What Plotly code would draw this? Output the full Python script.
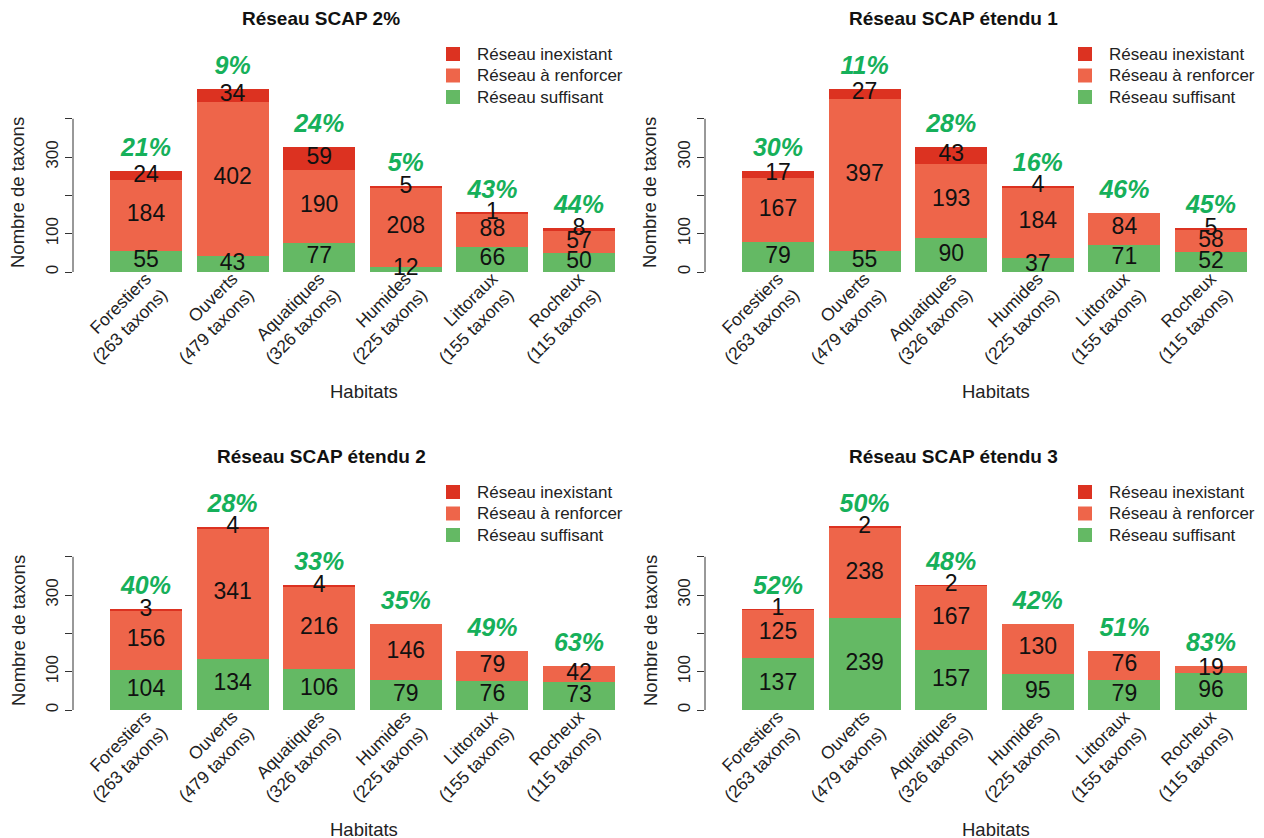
import plotly.graph_objects as go

# habitats et nombre de taxons par habitat
habitats = ["Forestiers", "Ouverts", "Aquatiques", "Humides", "Littoraux", "Rocheux"]
taxons = [263, 479, 326, 225, 155, 115]

titres = ["Réseau SCAP 2%", "Réseau SCAP étendu 1",
          "Réseau SCAP étendu 2", "Réseau SCAP étendu 3"]

# une liste par réseau (2%, étendu 1, étendu 2, étendu 3)
suffisant = [
    [55, 43, 77, 12, 66, 50],
    [79, 55, 90, 37, 71, 52],
    [104, 134, 106, 79, 76, 73],
    [137, 239, 157, 95, 79, 96],
]
renforcer = [
    [184, 402, 190, 208, 88, 57],
    [167, 397, 193, 184, 84, 58],
    [156, 341, 216, 146, 79, 42],
    [125, 238, 167, 130, 76, 19],
]
inexistant = [
    [24, 34, 59, 5, 1, 8],
    [17, 27, 43, 4, 0, 5],
    [3, 4, 4, 0, 0, 0],
    [1, 2, 2, 0, 0, 0],
]
pourcentages = [
    [21, 9, 24, 5, 43, 44],
    [30, 11, 28, 16, 46, 45],
    [40, 28, 33, 35, 49, 63],
    [52, 50, 48, 42, 51, 83],
]

yticks = [0, 100, 200, 300, 400]
yticktext = ["0", "100", "", "300", ""]

COL_INEX = "#DC3221"
COL_RENF = "#EE654A"
COL_SUFF = "#64B964"
COL_PCT = "#16B05A"
FONT = "Liberation Sans, Arial, sans-serif"

W, H = 1264, 838
PAGE = 8         # marge du body html
offsets = [(0, 0), (632, 0), (0, 438), (632, 438)]
PPU = 0.383      # pixels par taxon
Y0 = 272         # pixel de y=0 dans un panneau
C0, CW = 146, 86.6  # centre de la 1re barre, pas entre barres
TOP, BOT = 40, 276  # haut / bas du domaine y (pixels)
XLAB = 264       # ligne d'ancrage des étiquettes x (pixels)


def px(x):
    return (x - PAGE) / W


def py(y):
    return 1 - (y - PAGE) / H


cats = [f"{h}<br>({n} taxons)" for h, n in zip(habitats, taxons)]
legende = [("Réseau inexistant", COL_INEX), ("Réseau à renforcer", COL_RENF),
           ("Réseau suffisant", COL_SUFF)]

fig = go.Figure()
annotations = []
shapes = []

for k, (dx, dy) in enumerate(offsets):
    sfx = "" if k == 0 else str(k + 1)
    xa, ya = "x" + sfx, "y" + sfx

    series = [
        ("Réseau suffisant", suffisant[k], COL_SUFF),
        ("Réseau à renforcer", renforcer[k], COL_RENF),
        ("Réseau inexistant", inexistant[k], COL_INEX),
    ]
    base = [0] * len(cats)
    lx, ly, lt = [], [], []
    for name, vals, col in series:
        fig.add_trace(go.Bar(
            x=cats, y=vals, name=name, marker=dict(color=col, line=dict(width=0)),
            xaxis=xa, yaxis=ya, showlegend=False, hoverinfo="skip"))
        for c, b, v in zip(cats, base, vals):
            if v > 0:
                lx.append(c)
                ly.append(b + v / 2)
                lt.append(str(v))
        base = [b + v for b, v in zip(base, vals)]

    # valeurs dans les segments
    fig.add_trace(go.Scatter(
        x=lx, y=ly, text=lt, mode="text", textposition="middle center",
        textfont=dict(size=23, color="#111", family=FONT),
        xaxis=xa, yaxis=ya, showlegend=False, cliponaxis=False, hoverinfo="skip"))

    # pourcentages au-dessus des barres
    fig.add_trace(go.Scatter(
        x=cats, y=[t + 55 for t in base],
        text=[f"<b><i>{p}%</i></b>" for p in pourcentages[k]],
        mode="text", textposition="middle center",
        textfont=dict(size=25, color=COL_PCT, family=FONT),
        xaxis=xa, yaxis=ya, showlegend=False, cliponaxis=False, hoverinfo="skip"))

    fig.layout["xaxis" + sfx] = dict(
        domain=[px(73 + dx), min(px(632 + dx), 1)],
        range=[(73 - C0) / CW, (632 - C0) / CW],
        anchor="free", position=py(dy + XLAB),
        tickangle=-45, ticks="",
        showline=False, showgrid=False,
        zeroline=False, tickfont=dict(size=17.5, color="#222", family=FONT),
        fixedrange=True)
    fig.layout["yaxis" + sfx] = dict(
        domain=[py(dy + BOT), py(dy + TOP)],
        range=[(Y0 - BOT) / PPU, (Y0 - TOP) / PPU],
        anchor=xa, tickvals=yticks, ticktext=yticktext, tickangle=-90,
        ticks="outside", ticklen=7, tickcolor="#333", showline=False,
        showgrid=False, zeroline=False,
        tickfont=dict(size=17, color="#222", family=FONT), fixedrange=True)

    shapes.append(dict(type="line", xref=xa + " domain", yref=ya,
                       x0=0, x1=0, y0=0, y1=400,
                       line=dict(color="#333", width=1)))

    # légende
    for i, (name, col) in enumerate(legende):
        yc = dy + 54 + i * 21.5
        shapes.append(dict(type="rect", xref="paper", yref="paper",
                           x0=px(dx + 446), x1=px(dx + 460),
                           y0=py(yc + 7), y1=py(yc - 7),
                           fillcolor=col, line=dict(width=0)))
        annotations.append(dict(
            text=name, x=px(dx + 475), y=py(yc), xanchor="left", yanchor="middle",
            xref="paper", yref="paper", showarrow=False,
            font=dict(size=17, color="#222", family=FONT)))

    annotations.append(dict(
        text=f"<b>{titres[k]}</b>", x=px(321 + dx), y=py(18 + dy),
        xanchor="center", yanchor="middle",
        xref="paper", yref="paper", showarrow=False,
        font=dict(size=19, color="#111", family=FONT)))
    annotations.append(dict(
        text="Habitats", x=px(364 + dx), y=py(391 + dy),
        xanchor="center", yanchor="middle",
        xref="paper", yref="paper", showarrow=False,
        font=dict(size=18.5, color="#222", family=FONT)))
    annotations.append(dict(
        text="Nombre de taxons", x=px(18 + dx), y=py(193 + dy), textangle=-90,
        xanchor="center", yanchor="middle",
        xref="paper", yref="paper", showarrow=False,
        font=dict(size=18.5, color="#222", family=FONT)))

fig.update_layout(
    width=W, height=H, barmode="stack", bargap=1 / 6,
    margin=dict(l=0, r=0, t=0, b=0),
    paper_bgcolor="white", plot_bgcolor="white",
    font=dict(family=FONT), showlegend=False,
    annotations=annotations, shapes=shapes,
)

fig.write_html("out.html")
